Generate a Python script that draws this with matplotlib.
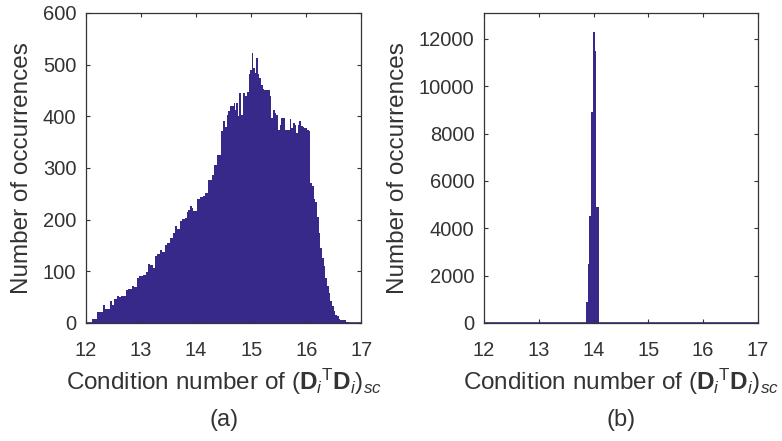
import numpy as np
import matplotlib
matplotlib.use("Agg")
import matplotlib.pyplot as plt

plt.rcParams["font.family"] = ["Liberation Sans", "DejaVu Sans"]
plt.rcParams["mathtext.fontset"] = "custom"
plt.rcParams["mathtext.rm"] = "Liberation Sans"
plt.rcParams["mathtext.it"] = "Liberation Sans:italic"
plt.rcParams["mathtext.bf"] = "Liberation Sans:bold"

BAR = "#36298a"
INK = "#333333"

# panel (a): bin edges and counts
edges_a = [
    12.103, 12.194, 12.255, 12.315, 12.345, 12.436, 12.467, 12.515, 12.558,
    12.606, 12.636, 12.727, 12.770, 12.830, 12.873, 12.933, 12.970, 13.042,
    13.091, 13.133, 13.164, 13.224, 13.255, 13.285, 13.345, 13.376, 13.436,
    13.467, 13.527, 13.588, 13.618, 13.648, 13.709, 13.739, 13.800, 13.830,
    13.861, 13.891, 13.921, 13.952, 14.012, 14.073, 14.133, 14.164, 14.224,
    14.285, 14.333, 14.376, 14.455, 14.497, 14.527, 14.558, 14.588, 14.618,
    14.679, 14.709, 14.727, 14.758, 14.782, 14.812, 14.848, 14.879, 14.921,
    14.952, 14.982, 15.012, 15.042, 15.073, 15.091, 15.115, 15.145, 15.176,
    15.212, 15.236, 15.333, 15.364, 15.388, 15.424, 15.455, 15.485, 15.515,
    15.539, 15.570, 15.618, 15.648, 15.697, 15.727, 15.758, 15.788, 15.818,
    15.842, 15.873, 15.903, 15.933, 15.964, 16.012, 16.042, 16.073, 16.103,
    16.133, 16.164, 16.194, 16.224, 16.255, 16.285, 16.315, 16.345, 16.376,
    16.406, 16.436, 16.467, 16.497, 16.527, 16.558, 16.588, 16.618, 16.727,
    16.770,
]
counts_a = [
    8, 21, 22, 34, 27, 43, 34, 46, 53, 50, 53, 63, 66, 72, 69, 87, 90, 92,
    98, 115, 112, 106, 130, 134, 141, 137, 150, 155, 165, 174, 187, 181, 197,
    201, 203, 215, 219, 227, 223, 216, 239, 243, 246, 252, 277, 287, 306, 326,
    371, 390, 379, 403, 410, 419, 425, 413, 425, 400, 446, 403, 446, 439, 448,
    481, 490, 523, 494, 484, 513, 481, 474, 461, 452, 450, 439, 397, 413, 406,
    403, 374, 384, 397, 397, 374, 374, 394, 377, 387, 384, 368, 384, 390, 381,
    379, 377, 374, 371, 271, 265, 239, 235, 206, 174, 145, 126, 110, 87, 71,
    58, 42, 32, 23, 16, 13, 8, 5, 1,
]

# panel (b)
edges_b = [13.87, 13.895, 13.92, 13.945, 13.97, 13.995, 14.02, 14.045,
           14.07, 14.095]
counts_b = [870, 2490, 4540, 8930, 8930, 12300, 11500, 4900, 4900]

xticks = [12, 13, 14, 15, 16, 17]
yticks_a = [0, 100, 200, 300, 400, 500, 600]
yticks_b = [0, 2000, 4000, 6000, 8000, 10000, 12000]

xlabel = r"Condition number of $(\mathbf{D}_{i}{}^{\mathrm{T}}\mathbf{D}_{i})_{sc}$"

fig = plt.figure(figsize=(7.82, 4.41), dpi=100)
ax_a = fig.add_axes([0.110, 0.2676, 0.352, 0.703])
ax_b = fig.add_axes([0.619, 0.2676, 0.350, 0.703])

panels = [
    (ax_a, edges_a, counts_a, yticks_a, 600, "(a)"),
    (ax_b, edges_b, counts_b, yticks_b, 13100, "(b)"),
]
for ax, edges, counts, yt, ytop, tag in panels:
    ax.stairs(counts, edges, fill=True, color=BAR, lw=0)
    ax.axhline(0, color=BAR, lw=1.2, zorder=3)
    ax.set_xlim(12, 17)
    ax.set_ylim(0, ytop)
    ax.set_xticks(xticks)
    ax.set_yticks(yt)
    ax.tick_params(direction="in", length=3, width=0.8, top=True,
                   right=True, labelsize=14.5, colors=INK)
    ax.tick_params(axis="x", pad=13)
    ax.tick_params(axis="y", pad=7)
    for sp in ax.spines.values():
        sp.set_color(INK)
        sp.set_linewidth(0.9)
    ax.set_xlabel(xlabel, fontsize=17.5, color=INK, labelpad=5)
    ax.set_ylabel("Number of occurrences", fontsize=17.5, color=INK,
                  labelpad=7)
    pos = ax.get_position()
    fig.text((pos.x0 + pos.x1) / 2, 1 - 420 / 441, tag, ha="center",
             va="center", fontsize=17, color=INK)

fig.savefig("out.png", dpi=100)
